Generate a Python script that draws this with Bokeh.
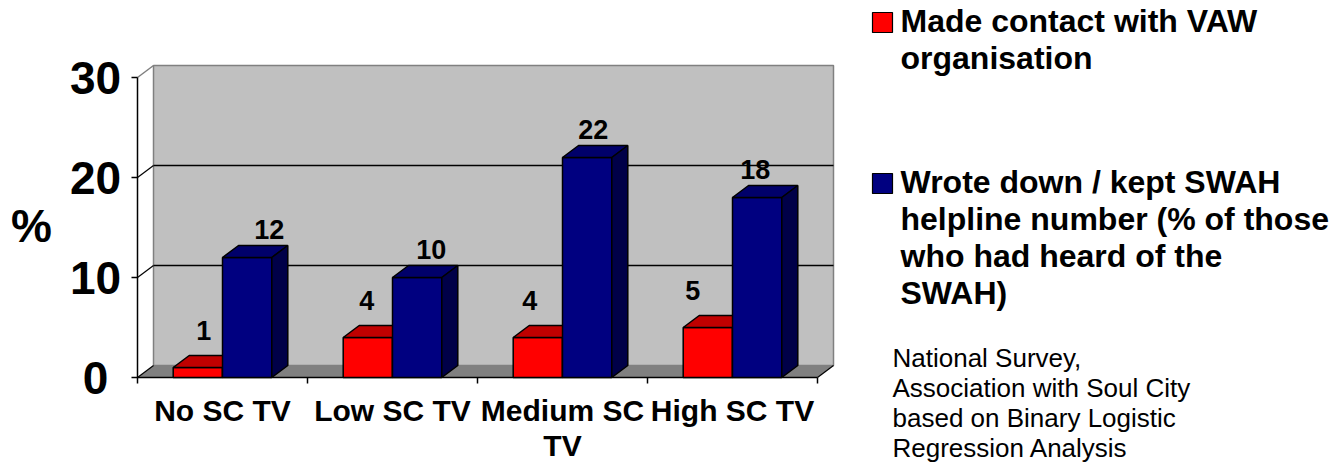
from bokeh.plotting import figure
from bokeh.models import Range1d
from bokeh.core.properties import value
from bokeh.embed import file_html
from bokeh.resources import INLINE

# ---------------- data ----------------
categories = ["No SC TV", "Low SC TV", "Medium SC TV", "High SC TV"]
category_lines = [["No SC TV"], ["Low SC TV"], ["Medium SC", "TV"], ["High SC TV"]]
contact_vaw = [1, 4, 4, 5]
kept_swah = [12, 10, 22, 18]
y_ticks = [0, 10, 20, 30]
y_tick_labels = ["0", "10", "20", "30"]
y_axis_title = "%"
series_names = [
    ["Made contact with VAW", "organisation"],
    ["Wrote down / kept SWAH", "helpline number (% of those", "who had heard of the", "SWAH)"],
]
source_note = ["National Survey,", "Association with Soul City",
               "based on Binary Logistic", "Regression Analysis"]

# ---------------- layout / style ----------------
W, H = 1343, 465
PX_CAT, PX_UNIT = 170.0, 10.0          # pixels per category, per percent
OX, OY = 137.0, 377.0                  # canvas pixel of data origin
x0 = (0 - OX) / PX_CAT
x1 = x0 + W / PX_CAT
y1 = OY / PX_UNIT
y0 = y1 - H / PX_UNIT

def sx(px):
    return (px - OX) / PX_CAT

def sy(py):
    return (OY - py) / PX_UNIT

BASE_FIX = 0.35                          # renderer baseline compensation (em)

def base(py, size):
    """data y for a text whose visual baseline should sit at canvas pixel py"""
    return sy(py - BASE_FIX * size)

DX = 16 / PX_CAT                        # 3D depth offset
DY = 12 / PX_UNIT
BW = 0.29                               # bar width (category units)
YMAX = 30
N = len(categories)

FONT = value("Liberation Sans")
RED, RED_TOP, RED_SIDE = "#FF0000", "#C00000", "#990000"
BLUE, BLUE_TOP, BLUE_SIDE = "#000080", "#00006A", "#000048"

p = figure(width=W, height=H, output_backend="svg", toolbar_location=None,
           x_range=Range1d(x0, x1), y_range=Range1d(y0, y1),
           min_border=0, min_border_left=0, min_border_right=0,
           min_border_top=0, min_border_bottom=0)
p.axis.visible = False
p.grid.visible = False
p.outline_line_color = None
p.background_fill_color = "white"
p.border_fill_color = "white"

# back wall
p.quad(left=[DX], right=[N + DX], bottom=[DY], top=[YMAX + DY],
       fill_color="#C0C0C0", line_color="#808080", line_width=1.5)
# floor
p.patch(x=[0, N, N + DX, DX], y=[0, 0, DY, DY], fill_color="#808080", line_color=None)
p.line(x=[N, N + DX], y=[0, DY], line_color="black", line_width=1.2)

# gridlines on the wall + diagonals to the front axis
grid_vals = [v for v in y_ticks if 0 < v < YMAX]
p.segment(x0=[DX] * len(grid_vals), y0=[v + DY for v in grid_vals],
          x1=[N + DX] * len(grid_vals), y1=[v + DY for v in grid_vals],
          line_color="black", line_width=1.5)
diag_vals = [v for v in y_ticks if v < YMAX]
p.segment(x0=[0] * len(diag_vals), y0=diag_vals, x1=[DX] * len(diag_vals),
          y1=[v + DY for v in diag_vals], line_color="black", line_width=1.2)
p.segment(x0=[0], y0=[YMAX], x1=[DX], y1=[YMAX + DY], line_color="#808080", line_width=1.5)

# axes lines and ticks
p.line(x=[0, 0], y=[0, YMAX], line_color="black", line_width=1.5)
p.line(x=[0, N], y=[0, 0], line_color="black", line_width=1.5)
p.segment(x0=[sx(OX - 6)] * len(y_ticks), y0=y_ticks, x1=[0] * len(y_ticks), y1=y_ticks,
          line_color="black", line_width=1.5)
p.segment(x0=list(range(N + 1)), y0=[0] * (N + 1), x1=list(range(N + 1)),
          y1=[sy(OY + 6)] * (N + 1), line_color="black", line_width=1.5)

# bars (3D)
def bars(lefts, vals, front, top, side):
    rights = [l + BW for l in lefts]
    p.quad(left=lefts, right=rights, bottom=[0] * len(vals), top=vals,
           fill_color=front, line_color="black", line_width=1.5)
    p.patches(xs=[[l, r, r + DX, l + DX] for l, r in zip(lefts, rights)],
              ys=[[v, v, v + DY, v + DY] for v in vals],
              fill_color=top, line_color="black", line_width=1.5)
    p.patches(xs=[[r, r + DX, r + DX, r] for r in rights],
              ys=[[0, DY, v + DY, v] for v in vals],
              fill_color=side, line_color="black", line_width=1.5)

red_left = [i + 0.5 - BW for i in range(N)]
blue_left = [i + 0.5 for i in range(N)]
bars(red_left, contact_vaw, RED, RED_TOP, RED_SIDE)
bars(blue_left, kept_swah, BLUE, BLUE_TOP, BLUE_SIDE)

# data labels (gap above the back edge of each bar top, in px)
LAB = 27
lab_style = dict(text_font=FONT, text_font_style="bold", text_font_size=f"{LAB}px",
                 text_align="center", text_baseline="alphabetic", text_color="black")
fix = BASE_FIX * LAB / PX_UNIT
p.text(x=[l + BW / 2 + (6 - 7 * i) / PX_CAT for i, l in enumerate(red_left)],
       y=[v + DY + 1.6 + fix for v in contact_vaw], text=[str(v) for v in contact_vaw], **lab_style)
p.text(x=[l + BW / 2 + (22 - 8 * i) / PX_CAT for i, l in enumerate(blue_left)],
       y=[v + DY + 0.7 + fix for v in kept_swah], text=[str(v) for v in kept_swah], **lab_style)

# y tick labels
TK = 46
p.text(x=[sx(95)] * len(y_ticks), y=[v - 1.65 + BASE_FIX * TK / PX_UNIT for v in y_ticks],
       text=y_tick_labels,
       text_font=FONT, text_font_style="bold", text_font_size=f"{TK}px",
       text_align="center", text_baseline="alphabetic", text_color="black")
# y axis title
p.text(x=[sx(31)], y=[base(242, TK)], text=[y_axis_title],
       text_font=FONT, text_font_style="bold", text_font_size=f"{TK}px",
       text_align="center", text_baseline="alphabetic", text_color="black")

# category labels
CF = 30
cx, cy, ct = [], [], []
for i, lines in enumerate(category_lines):
    for j, t in enumerate(lines):
        cx.append(i + 0.5)
        cy.append(base(420 + 35 * j, CF))
        ct.append(t)
p.text(x=cx, y=cy, text=ct, text_font=FONT, text_font_style="bold", text_font_size=f"{CF}px",
       text_align="center", text_baseline="alphabetic", text_color="black")

# legend
LF = 32
leg_colors = [RED, BLUE]
leg_first_baseline = [32, 193]
for k, (names, col) in enumerate(zip(series_names, leg_colors)):
    b = leg_first_baseline[k]
    p.quad(left=[sx(872)], right=[sx(892)], bottom=[sy(b)], top=[sy(b - 20)],
           fill_color=col, line_color="black", line_width=1.2)
    p.text(x=[sx(900)] * len(names), y=[base(b + 37 * j, LF) for j in range(len(names))],
           text=names, text_font=FONT, text_font_style="bold", text_font_size=f"{LF}px",
           text_align="left", text_baseline="alphabetic", text_color="black")

# source note
SF = 26
p.text(x=[sx(892)] * len(source_note), y=[base(367 + 30 * j, SF) for j in range(len(source_note))],
       text=source_note, text_font=FONT, text_font_size=f"{SF}px",
       text_align="left", text_baseline="alphabetic", text_color="black")

open("out.html", "w").write(file_html(p, INLINE))
